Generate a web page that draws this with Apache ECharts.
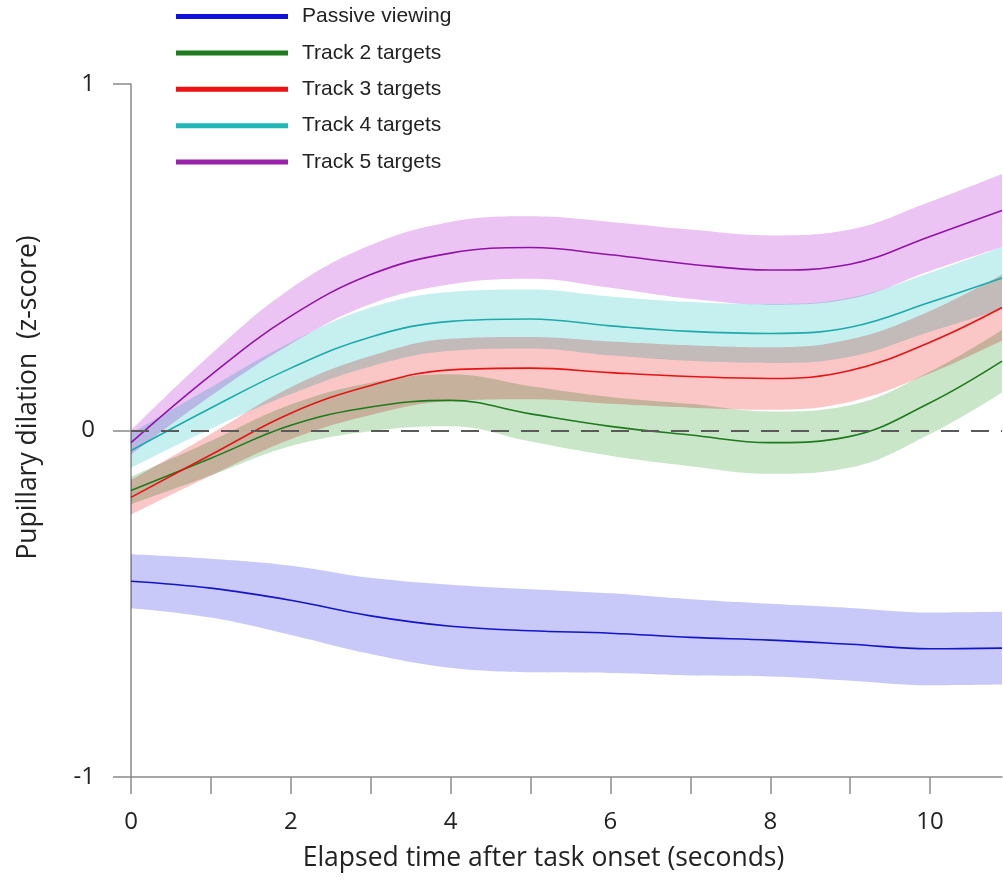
<!DOCTYPE html>
<html>
<head>
<meta charset="utf-8">
<script src="https://cdn.jsdelivr.net/npm/echarts@6/dist/echarts.min.js"></script>
<style>
html,body{margin:0;padding:0;background:#fff;}
#chart{width:1003px;height:883px;}
</style>
</head>
<body>
<div id="chart"></div>
<script>
// Time points (seconds)
const times = [0, 1, 2, 3, 4, 5, 6, 7, 8, 9, 10, 10.9];

// Series means (z-score)
const passive = [-0.435, -0.455, -0.49, -0.535, -0.565, -0.578, -0.585, -0.597, -0.605, -0.617, -0.63, -0.628];
const track2  = [-0.173, -0.08, 0.015, 0.068, 0.087, 0.048, 0.012, -0.013, -0.035, -0.017, 0.08, 0.2];
const track3  = [-0.193, -0.07, 0.05, 0.13, 0.175, 0.18, 0.167, 0.156, 0.15, 0.173, 0.255, 0.355];
const track4  = [-0.058, 0.065, 0.18, 0.27, 0.315, 0.322, 0.302, 0.286, 0.28, 0.298, 0.37, 0.44];
const track5  = [-0.035, 0.16, 0.33, 0.45, 0.512, 0.528, 0.507, 0.48, 0.463, 0.48, 0.56, 0.635];

// Confidence band half-widths
const passiveCI = [0.078, 0.085, 0.1, 0.11, 0.12, 0.12, 0.115, 0.11, 0.105, 0.105, 0.105, 0.105];
const track2CI  = [0.04, 0.05, 0.06, 0.07, 0.075, 0.08, 0.085, 0.09, 0.09, 0.09, 0.09, 0.09];
const track3CI  = [0.05, 0.06, 0.075, 0.085, 0.09, 0.09, 0.09, 0.09, 0.09, 0.09, 0.09, 0.095];
const track4CI  = [0.05, 0.06, 0.075, 0.085, 0.085, 0.085, 0.085, 0.085, 0.085, 0.085, 0.085, 0.09];
const track5CI  = [0.035, 0.06, 0.08, 0.085, 0.09, 0.09, 0.095, 0.1, 0.1, 0.1, 0.1, 0.105];

const names = ['Passive viewing', 'Track 2 targets', 'Track 3 targets', 'Track 4 targets', 'Track 5 targets'];
const yTicks = [-1, 0, 1];
const xLabelTicks = [0, 2, 4, 6, 8, 10];

const groups = [
  {name: names[0], mean: passive, ci: passiveCI, line: '#1414c8', band: '#c9c9f9', leg: '#1010d8'},
  {name: names[1], mean: track2, ci: track2CI, line: '#1d7a1d', band: '#c9e6c9', leg: '#1e7b1e'},
  {name: names[2], mean: track3, ci: track3CI, line: '#e41414', band: '#fbc6c6', leg: '#ee1111'},
  {name: names[3], mean: track4, ci: track4CI, line: '#1fa9a9', band: '#c6f0f0', leg: '#22b8b8'},
  {name: names[4], mean: track5, ci: track5CI, line: '#8e14a6', band: '#ecc4f3', leg: '#9922aa'}
];

const SMOOTH = 0.4;
const series = [];
groups.forEach((g, i) => {
  // data stored as [value, time] so that the stacked dimension is the y value
  const lower = g.mean.map((m, j) => [m - g.ci[j], times[j]]);
  const width = g.ci.map((c, j) => [2 * c, times[j]]);
  series.push({
    name: 'lo' + i, type: 'line', stack: 'band' + i, stackStrategy: 'all', data: lower,
    encode: {x: 1, y: 0},
    smooth: SMOOTH, symbol: 'none', silent: true,
    lineStyle: {opacity: 0}, z: 1
  });
  series.push({
    name: 'bw' + i, type: 'line', stack: 'band' + i, stackStrategy: 'all', data: width,
    encode: {x: 1, y: 0},
    smooth: SMOOTH, symbol: 'none', silent: true,
    lineStyle: {opacity: 0},
    areaStyle: {color: g.band, opacity: 1},
    blendMode: 'multiply', z: 1
  });
});
groups.forEach((g, i) => {
  const s = {
    name: g.name, type: 'line', data: g.mean.map((m, j) => [times[j], m]),
    smooth: SMOOTH, symbol: 'none', color: g.leg,
    lineStyle: {color: g.line, width: 1.6}, z: 3
  };
  if (i === 0) {
    s.markLine = {
      silent: true, symbol: 'none', label: {show: false},
      lineStyle: {color: '#5a5a5a', width: 2, type: [18, 12]},
      data: [{yAxis: 0}], z: 4
    };
  }
  series.push(s);
});

const chart = echarts.init(document.getElementById('chart'), null, {renderer: 'canvas'});
chart.setOption({
  backgroundColor: '#ffffff',
  animation: false,
  grid: {left: 131, right: 1, top: 84, bottom: 106},
  legend: {
    data: names, orient: 'vertical', left: 171, top: 1,
    icon: 'rect', itemWidth: 112, itemHeight: 5, itemGap: 15.4,
    textStyle: {fontFamily: 'Liberation Sans', fontSize: 21, color: '#222', lineHeight: 20, padding: [0, 0, 0, 9]}
  },
  xAxis: {
    type: 'value', min: 0, max: 10.9, interval: 1,
    name: 'Elapsed time after task onset (seconds)',
    nameLocation: 'middle', nameGap: 68,
    nameTextStyle: {fontFamily: 'Open Sans', fontSize: 26.5, color: '#222', padding: [0, 46, 0, 0]},
    axisLine: {show: true, onZero: false, lineStyle: {color: '#8a8a8a', width: 1.5}},
    axisTick: {show: true, length: 17, lineStyle: {color: '#8a8a8a', width: 1.5}},
    axisLabel: {
      margin: 33, fontFamily: 'Open Sans', fontSize: 24, color: '#222', showMaxLabel: false,
      formatter: v => xLabelTicks.includes(v) ? String(v) : ''
    },
    splitLine: {show: false}
  },
  yAxis: {
    type: 'value', min: -1, max: 1, interval: 1,
    name: 'Pupillary dilation  (z-score)',
    nameLocation: 'middle', nameGap: 89,
    nameTextStyle: {fontFamily: 'Open Sans', fontSize: 26.5, color: '#222', padding: [0, 0, 0, 66]},
    axisLine: {show: true, onZero: false, lineStyle: {color: '#8a8a8a', width: 1.5}},
    axisTick: {show: true, length: 18, lineStyle: {color: '#8a8a8a', width: 1.5}},
    axisLabel: {
      margin: 36, fontFamily: 'Open Sans', fontSize: 24, color: '#222',
      formatter: v => yTicks.includes(v) ? String(v) : ''
    },
    splitLine: {show: false}
  },
  series: series
});
</script>
</body>
</html>
